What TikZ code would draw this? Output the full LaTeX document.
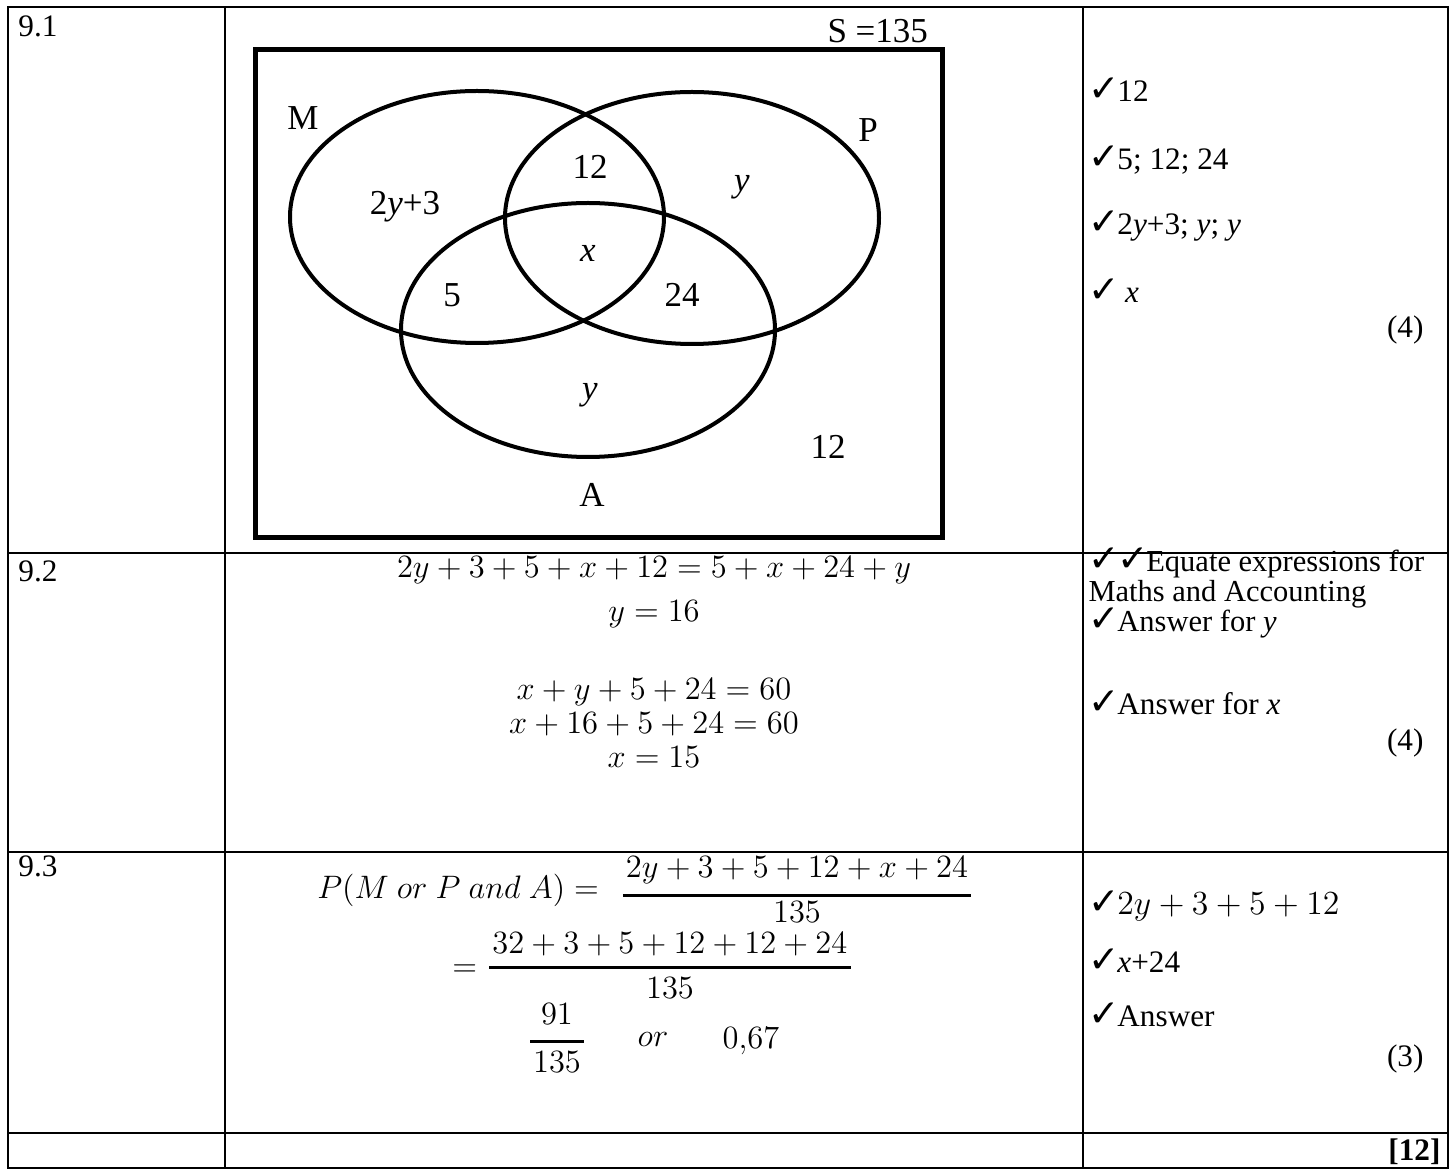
\RequirePackage{fix-cm}
\documentclass[tikz,border=0pt]{standalone}
\usepackage{amssymb}
\usepackage{fontspec}
\setmainfont{Liberation Serif}
\newfontfamily\tickfont{DejaVu Sans}
\newcommand{\tick}{\smash{\tickfont\fontsize{15}{15}\selectfont ✓}\kern-1pt}
\usepackage{tikz}
\usetikzlibrary{positioning}

\begin{document}
\begin{tikzpicture}[
    x=0.4pt, y=-0.4pt,
    grid/.style={line width=0.8pt},
    txt/.style={inner sep=0pt, font=\fontsize{12.5}{14}\selectfont},
    tight/.style={inner sep=0pt, font=\fontsize{12.2}{13}\selectfont},
    lbl/.style={inner sep=0pt, font=\fontsize{14}{16}\selectfont},
    mth/.style={inner sep=0pt, inner xsep=1pt, font=\fontsize{13}{15}\selectfont},
    venn/.style={line width=1.6pt},
    fracbar/.style={line width=1.2pt}
]
    \useasboundingbox (0,0) rectangle (1455,1171);

    % table
    \draw[grid] (8,7) rectangle (1448,1168);
    \draw[grid] (225,7) -- (225,1168);
    \draw[grid] (1083,7) -- (1083,1168);
    \draw[grid] (8,553) -- (1448,553);
    \draw[grid] (8,852) -- (1448,852);
    \draw[grid] (8,1133) -- (1448,1133);

    \node[txt, anchor=base west] (q1) at (18,37) {9.1};
    \node[txt, anchor=base west] (q2) at (18,582) {9.2};
    \node[txt, anchor=base west] (q3) at (18,877) {9.3};

    % 9.1 venn diagram
    \draw[line width=2pt] (255,50) rectangle (942,538);
    \draw[venn] (477,217) ellipse [x radius=187, y radius=126];
    \draw[venn] (692,218) ellipse [x radius=187, y radius=126];
    \draw[venn] (588,330) ellipse [x radius=187, y radius=127];

    \node[lbl, anchor=base west] (total) at (827,43) {S =135};
    \node[lbl] (setM) at (303,118) {M};
    \node[lbl] (setP) at (868,130) {P};
    \node[lbl] (setA) at (592,495) {A};
    \node[lbl] (onlyM) at (405,207) {2\textit{y}+3};
    \node[lbl] (MP) at (590,167) {12};
    \node[lbl] (onlyP) at (742,187) {\textit{y}};
    \node[lbl] (MPA) at (588,253) {\textit{x}};
    \node[lbl] (MA) at (452,295) {5};
    \node[lbl] (PA) at (682,295) {24};
    \node[lbl] (onlyA) at (590,395) {\textit{y}};
    \node[lbl] (none) at (828,447) {12};

    \node[txt, anchor=base west] (m1a) at (1088,102) {\tick12};
    \node[txt, anchor=base west] (m1b) at (1088,170) {\tick5; 12; 24};
    \node[txt, anchor=base west] (m1c) at (1088,235) {\tick2\textit{y}+3; \textit{y}; \textit{y}};
    \node[txt, anchor=base west] (m1d) at (1088,303) {\tick\ \textit{x}};
    \node[txt, anchor=base east] (m1e) at (1424,338) {(4)};

    % 9.2 working
    \node[mth, anchor=base] (eq1) at (654,578) {$2y+3+5+x+12=5+x+24+y$};
    \node[mth, anchor=base] (eq2) at (654,622) {$y=16$};
    \node[mth, anchor=base] (eq3) at (654,700) {$x+y+5+24=60$};
    \node[mth, anchor=base] (eq4) at (654,734) {$x+16+5+24=60$};
    \node[mth, anchor=base] (eq5) at (654,768) {$x=15$};

    \node[tight, anchor=base west] (m2a) at (1088,572) {\tick\tick Equate expressions for};
    \node[tight, anchor=base west] (m2b) at (1088,602) {Maths and Accounting};
    \node[tight, anchor=base west] (m2c) at (1088,632) {\tick Answer for \textit{y}};
    \node[txt, anchor=base west] (m2d) at (1088,715) {\tick Answer for \textit{x}};
    \node[txt, anchor=base east] (m2e) at (1424,751) {(4)};

    % 9.3 working
    \node[mth, anchor=base east] (prob) at (602,899) {$P(M\ or\ P\ and\ A) =$};
    \node[mth, anchor=base] (num1) at (797,878) {$2y+3+5+12+x+24$};
    \node[mth, anchor=base] (den1) at (797,923) {$135$};
    \draw[fracbar] ([yshift=-7pt]num1.base west) -- ([yshift=-7pt]num1.base east);

    \node[mth, anchor=base east] (eqs) at (480,976) {$=$};
    \node[mth, anchor=base] (num2) at (670,954) {$32+3+5+12+12+24$};
    \node[mth, anchor=base] (den2) at (670,998) {$135$};
    \draw[fracbar] ([yshift=-5.6pt]num2.base west) -- ([yshift=-5.6pt]num2.base east);

    \node[mth, anchor=base] (num3) at (557,1025) {$91$};
    \node[mth, anchor=base] (den3) at (557,1072) {$135$};
    \draw[fracbar] ([yshift=12pt]den3.base west) -- ([yshift=12pt]den3.base east);
    \node[mth, anchor=base] (orword) at (653,1047) {$or$};
    \node[mth, anchor=base] (dec) at (751,1048) {$0{,}67$};

    \node[txt, anchor=base west] (m3a) at (1088,915) {\tick{\fontsize{13.5}{15}\selectfont$2y+3+5+12$}};
    \node[txt, anchor=base west] (m3b) at (1088,972) {\tick\textit{x}+24};
    \node[txt, anchor=base west] (m3c) at (1088,1027) {\tick Answer};
    \node[txt, anchor=base east] (m3d) at (1424,1066) {(3)};

    \node[txt, anchor=base east, font=\fontsize{12.5}{14}\selectfont\bfseries] (tot) at (1441,1160) {[12]};
\end{tikzpicture}
\end{document}
